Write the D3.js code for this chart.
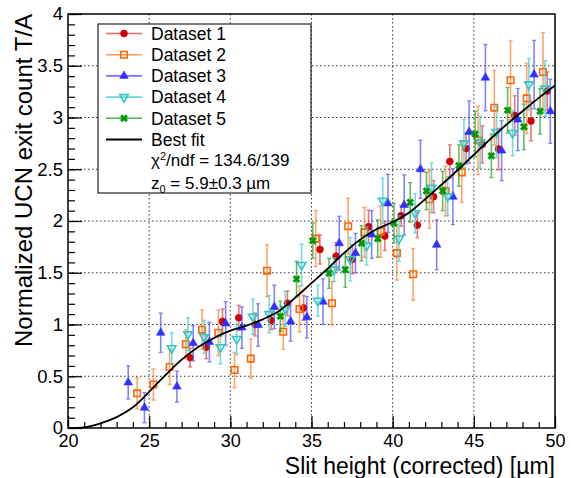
<!DOCTYPE html>
<html>
<head>
<meta charset="utf-8">
<script src="https://cdn.jsdelivr.net/npm/d3@7"></script>
<style>
body { margin: 0; background: #fff; }
svg { font-family: "Liberation Sans", Arial, sans-serif; }
</style>
</head>
<body>
<div id="chart"></div>
<script>
// values
var ds1X = [27.52, 28.52, 29.52, 30.52, 31.52, 32.52, 33.52, 34.52, 35.52, 36.52, 37.52, 38.52, 39.52, 40.52, 41.52, 42.52, 43.52, 44.52, 45.52, 46.52, 47.52, 48.52, 49.52];
var ds1Y = [0.68, 0.78, 1.03, 1.065, 1.00, 1.04, 1.205, 1.16, 1.725, 1.66, 1.63, 1.945, 1.855, 2.05, 1.96, 2.235, 2.575, 2.70, 2.74, 2.695, 3.02, 2.965, 3.255];
var ds1E = [0.09, 0.11, 0.12, 0.12, 0.11, 0.09, 0.12, 0.12, 0.14, 0.13, 0.14, 0.16, 0.14, 0.10, 0.12, 0.155, 0.16, 0.15, 0.18, 0.20, 0.19, 0.19, 0.185];

var ds2X = [24.26, 25.26, 26.26, 27.26, 28.26, 29.26, 30.26, 31.26, 32.26, 33.26, 34.26, 35.26, 36.26, 37.26, 38.26, 39.26, 40.26, 41.26, 42.26, 43.26, 44.26, 45.26, 46.26, 47.26, 48.26, 49.26];
var ds2Y = [0.335, 0.42, 0.59, 0.81, 0.95, 0.92, 0.56, 0.67, 1.52, 0.93, 1.15, 1.83, 1.205, 1.95, 1.89, 1.90, 1.69, 1.485, 2.21, 2.29, 2.47, 2.78, 3.095, 3.36, 3.185, 3.44];
var ds2E = [0.15, 0.15, 0.17, 0.14, 0.19, 0.22, 0.17, 0.19, 0.25, 0.17, 0.22, 0.27, 0.21, 0.27, 0.24, 0.25, 0.26, 0.25, 0.28, 0.24, 0.29, 0.33, 0.36, 0.38, 0.34, 0.38];

var ds3X = [23.71, 24.71, 25.71, 26.71, 27.71, 28.71, 29.71, 30.71, 31.71, 32.71, 33.71, 34.71, 35.71, 36.71, 37.71, 38.71, 39.71, 40.71, 41.71, 42.71, 43.71, 44.71, 45.71, 46.71, 47.71, 48.71, 49.71];
var ds3Y = [0.44, 0.196, 0.92, 0.40, 0.82, 0.83, 1.01, 0.97, 0.995, 1.17, 1.03, 1.07, 1.22, 1.785, 1.69, 1.87, 2.17, 2.155, 2.50, 1.77, 2.235, 2.86, 3.385, 2.68, 2.98, 3.415, 3.06];
var ds3E = [0.16, 0.145, 0.19, 0.15, 0.17, 0.19, 0.21, 0.20, 0.205, 0.21, 0.19, 0.20, 0.22, 0.26, 0.19, 0.23, 0.28, 0.29, 0.28, 0.24, 0.27, 0.30, 0.32, 0.29, 0.30, 0.33, 0.31];

var ds4X = [26.39, 27.39, 28.39, 29.39, 30.39, 31.39, 32.39, 33.39, 34.39, 35.39, 36.39, 37.39, 38.39, 39.39, 40.39, 41.39, 42.39, 43.39, 44.39, 45.39, 46.39, 47.39, 48.39, 49.39];
var ds4Y = [0.77, 0.905, 0.88, 0.78, 0.86, 1.075, 1.10, 1.15, 1.575, 1.23, 1.53, 1.63, 1.76, 2.195, 1.83, 2.075, 2.32, 2.24, 2.75, 2.76, 2.86, 2.85, 3.32, 3.28];
var ds4E = [0.15, 0.16, 0.16, 0.16, 0.15, 0.17, 0.18, 0.17, 0.20, 0.15, 0.115, 0.21, 0.185, 0.22, 0.22, 0.19, 0.24, 0.19, 0.23, 0.25, 0.25, 0.22, 0.25, 0.27];

var ds5X = [33.08, 34.08, 35.08, 36.08, 37.08, 38.08, 39.08, 40.08, 41.08, 42.08, 43.08, 44.08, 45.08, 46.08, 47.08, 48.08, 49.08];
var ds5Y = [1.08, 1.44, 1.81, 1.495, 1.53, 1.785, 1.83, 1.98, 2.18, 2.29, 2.29, 2.535, 2.84, 2.63, 3.07, 2.91, 3.06];
var ds5E = [0.145, 0.17, 0.17, 0.145, 0.17, 0.17, 0.18, 0.19, 0.19, 0.18, 0.19, 0.20, 0.22, 0.21, 0.22, 0.22, 0.22];

var fitX = [20, 21, 22, 23, 24, 25, 26, 27, 28, 29, 30, 31, 32, 33, 34, 35, 36, 37, 38, 39, 40, 41, 42, 43, 44, 45, 46, 47, 48, 49, 50];
var fitY = [0, 0.007, 0.045, 0.105, 0.20, 0.35, 0.51, 0.66, 0.78, 0.87, 0.94, 0.99, 1.05, 1.13, 1.26, 1.40, 1.54, 1.69, 1.82, 1.92, 1.99, 2.08, 2.21, 2.35, 2.49, 2.64, 2.79, 2.93, 3.06, 3.19, 3.31];

var xMajor = [20, 25, 30, 35, 40, 45, 50];
var yMajor = [0, 0.5, 1, 1.5, 2, 2.5, 3, 3.5, 4];

var seriesNames = ["Dataset 1", "Dataset 2", "Dataset 3", "Dataset 4", "Dataset 5"];

var datasets = [
  {name: seriesNames[0], x: ds1X, y: ds1Y, e: ds1E, color: "#d00000", bar: "#e04040", marker: "circle"},
  {name: seriesNames[1], x: ds2X, y: ds2Y, e: ds2E, color: "#ff6600", bar: "#ff7f30", marker: "square"},
  {name: seriesNames[2], x: ds3X, y: ds3Y, e: ds3E, color: "#3030ff", bar: "#5050ff", marker: "triangle"},
  {name: seriesNames[3], x: ds4X, y: ds4Y, e: ds4E, color: "#30c8c8", bar: "#40cccc", marker: "triangleDown"},
  {name: seriesNames[4], x: ds5X, y: ds5Y, e: ds5E, color: "#009a00", bar: "#20a020", marker: "cross"}
];

const W = 572, H = 478;
const margin = {top: 14, right: 17, bottom: 50, left: 68},
      width = W - margin.left - margin.right,
      height = H - margin.top - margin.bottom;

var root = d3.select("#chart")
  .append("svg")
  .attr("width", W)
  .attr("height", H);

root.append("rect").attr("width", W).attr("height", H).attr("fill", "#fff");

var svg = root.append("g")
  .attr("transform", "translate(" + margin.left + "," + margin.top + ")");

var x = d3.scaleLinear().domain([20, 50]).range([0, width]);
var y = d3.scaleLinear().domain([0, 4]).range([height, 0]);

// dotted grid
svg.append("g").selectAll("line")
  .data(xMajor.slice(1, -1))
  .enter().append("line")
  .attr("x1", function(d) {return x(d);})
  .attr("x2", function(d) {return x(d);})
  .attr("y1", 0).attr("y2", height)
  .attr("stroke", "#333").attr("stroke-width", 1).attr("stroke-dasharray", "1.5,2.5");
svg.append("g").selectAll("line")
  .data(yMajor.slice(1, -1))
  .enter().append("line")
  .attr("y1", function(d) {return y(d);})
  .attr("y2", function(d) {return y(d);})
  .attr("x1", 0).attr("x2", width)
  .attr("stroke", "#333").attr("stroke-width", 1).attr("stroke-dasharray", "1.5,2.5");

// axes
var xMinor = svg.append("g")
  .attr("transform", "translate(0," + height + ")")
  .call(d3.axisBottom(x).tickValues(d3.range(20, 51, 1)).tickSize(-6).tickFormat(""));
xMinor.select(".domain").remove();

var xAxis = svg.append("g")
  .attr("transform", "translate(0," + height + ")")
  .call(d3.axisBottom(x).tickValues(xMajor).tickSize(-12).tickPadding(6).tickFormat(d3.format("")));
xAxis.select(".domain").remove();
xAxis.selectAll("text").style("font-size", "18px").attr("fill", "#000");

var yMinor = svg.append("g")
  .call(d3.axisLeft(y).tickValues(d3.range(0, 41, 1).map(function(d) {return d / 10;})).tickSize(-7).tickFormat(""));
yMinor.select(".domain").remove();

var yAxis = svg.append("g")
  .call(d3.axisLeft(y).tickValues(yMajor).tickSize(-14).tickPadding(5).tickFormat(d3.format("")));
yAxis.select(".domain").remove();
yAxis.selectAll("text").style("font-size", "18.5px").attr("fill", "#000");

svg.selectAll(".tick line").attr("stroke", "#000").attr("stroke-width", 1.2);

// error bars and markers
function markerPath(type, size) {
  if (type == "circle") return d3.symbol(d3.symbolCircle, size)();
  if (type == "square") return d3.symbol(d3.symbolSquare, size)();
  if (type == "cross") return d3.symbol(d3.symbolCross, size)();
  return d3.symbol(d3.symbolTriangle, size)();
}
function markerTransform(type, px, py) {
  if (type == "triangleDown") return "translate(" + px + "," + py + ") rotate(180)";
  if (type == "cross") return "translate(" + px + "," + py + ") rotate(45)";
  return "translate(" + px + "," + py + ")";
}
function drawMarker(g, type, color, px, py) {
  var open = (type == "square" || type == "triangleDown");
  var size = type == "circle" ? 38 : (type == "cross" ? 32 : (type == "square" ? 42 : 32));
  g.append("path")
    .attr("d", markerPath(type, size))
    .attr("transform", markerTransform(type, px, py))
    .attr("fill", open ? "none" : color)
    .attr("stroke", color)
    .attr("stroke-width", open ? 1.6 : 0.6);
}

datasets.forEach(function(ds) {
  var pts = ds.x.map(function(v, i) {return {x: v, y: ds.y[i], e: ds.e[i]};});
  var g = svg.append("g");
  var bars = g.selectAll(".err")
    .data(pts)
    .enter().append("g")
    .attr("opacity", 0.7);
  bars.append("line")
    .attr("x1", function(d) {return x(d.x);})
    .attr("x2", function(d) {return x(d.x);})
    .attr("y1", function(d) {return y(d.y - d.e);})
    .attr("y2", function(d) {return y(d.y + d.e);})
    .attr("stroke", ds.bar).attr("stroke-width", 1.6);
  [-1, 1].forEach(function(s) {
    bars.append("line")
      .attr("x1", function(d) {return x(d.x) - 2;})
      .attr("x2", function(d) {return x(d.x) + 2;})
      .attr("y1", function(d) {return y(d.y + s * d.e);})
      .attr("y2", function(d) {return y(d.y + s * d.e);})
      .attr("stroke", ds.bar).attr("stroke-width", 1.4);
  });
  pts.forEach(function(d) {
    drawMarker(g, ds.marker, ds.color, x(d.x), y(d.y));
  });
});

// fit curve
var fitLine = d3.line()
  .curve(d3.curveMonotoneX)
  .x(function(d, i) {return x(fitX[i]);})
  .y(function(d) {return y(d);});
svg.append("path")
  .attr("d", fitLine(fitY))
  .attr("fill", "none")
  .attr("stroke", "#000")
  .attr("stroke-width", 1.8);

// frame
svg.append("rect")
  .attr("width", width).attr("height", height)
  .attr("fill", "none").attr("stroke", "#000").attr("stroke-width", 1.5);

// axis titles
root.append("text")
  .attr("x", 555).attr("y", 473.5)
  .attr("text-anchor", "end")
  .style("font-size", "23px")
  .text("Slit height (corrected) [\u00b5m]");
root.append("text")
  .attr("transform", "translate(32,14) rotate(-90)")
  .attr("text-anchor", "end")
  .style("font-size", "24px")
  .text("Normalized UCN exit count T/A");

// legend
var lg = root.append("g");
lg.append("rect")
  .attr("x", 98).attr("y", 24).attr("width", 213).attr("height", 169)
  .attr("fill", "#fff").attr("stroke", "#222").attr("stroke-width", 1.2);
var rowY = function(i) {return 33.5 + i * 21.2;};
datasets.forEach(function(ds, i) {
  lg.append("line")
    .attr("x1", 106).attr("x2", 142)
    .attr("y1", rowY(i)).attr("y2", rowY(i))
    .attr("stroke", ds.bar).attr("stroke-width", 1.6).attr("opacity", 0.8);
  drawMarker(lg, ds.marker, ds.color, 124, rowY(i));
  lg.append("text")
    .attr("x", 151).attr("y", rowY(i)).attr("dy", "0.36em")
    .style("font-size", "17.5px")
    .text(ds.name);
});
lg.append("line")
  .attr("x1", 106).attr("x2", 142)
  .attr("y1", rowY(5)).attr("y2", rowY(5))
  .attr("stroke", "#000").attr("stroke-width", 2);
lg.append("text")
  .attr("x", 151).attr("y", rowY(5)).attr("dy", "0.36em")
  .style("font-size", "17.5px")
  .text("Best fit");

var chi = lg.append("text")
  .attr("x", 151).attr("y", rowY(6) - 1).attr("dy", "0.36em")
  .style("font-size", "17px");
chi.append("tspan").text("\u03c7");
chi.append("tspan").attr("dy", "-6").style("font-size", "11px").text("2");
chi.append("tspan").attr("dy", "6").text("/ndf = 134.6/139");

var zt = lg.append("text")
  .attr("x", 151).attr("y", rowY(7) + 0.5).attr("dy", "0.36em")
  .style("font-size", "17px");
zt.append("tspan").text("z");
zt.append("tspan").attr("dy", "4").style("font-size", "11px").text("0");
zt.append("tspan").attr("dy", "-4").text(" = 5.9\u00b10.3 \u00b5m");
</script>
</body>
</html>
